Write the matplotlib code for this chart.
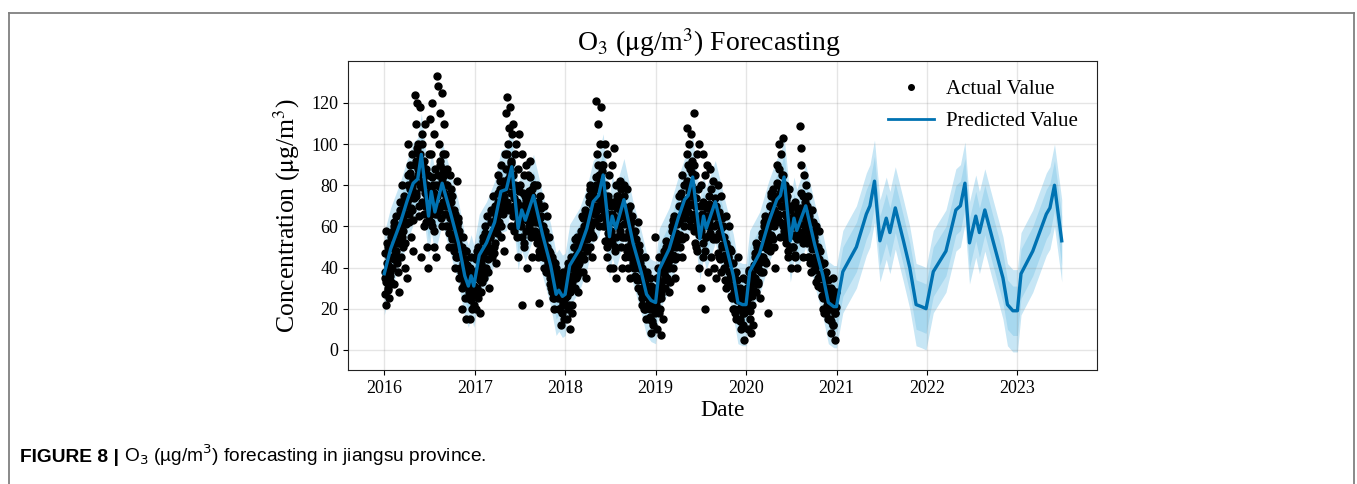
import numpy as np
import matplotlib
matplotlib.use("Agg")
import matplotlib.pyplot as plt
from matplotlib.lines import Line2D

plt.rcParams['font.family'] = ['Liberation Serif', 'DejaVu Serif']
plt.rcParams['mathtext.fontset'] = 'stix'

# observed daily O3 (read per month, Jan..Dec) - scattered / outer points
obs_2016 = [
    [27, 35, 58, 22, 42, 30, 50, 25, 38, 45, 33, 55],
    [40, 55, 60, 32, 48, 65, 45, 52, 38, 58, 28],
    [60, 72, 45, 80, 55, 66, 50, 75, 62, 40, 70, 35],
    [70, 85, 100, 62, 78, 90, 55, 95, 68, 82, 48, 74],
    [124, 90, 110, 75, 120, 85, 100, 65, 95, 118, 80, 45, 105],
    [100, 80, 60, 92, 110, 70, 88, 50, 75, 40, 95, 65],
    [112, 70, 95, 60, 120, 80, 50, 105, 75, 88, 45, 66],
    [133, 128, 100, 80, 115, 90, 70, 125, 60, 95, 85, 110],
    [95, 80, 70, 88, 60, 75, 50, 85, 65, 72, 55],
    [75, 60, 50, 68, 40, 55, 82, 45, 62, 35, 58],
    [50, 38, 45, 30, 20, 55, 35, 42, 25, 48, 15, 32],
    [35, 25, 40, 28, 15, 32, 45, 20, 30, 38, 22, 27],
]
obs_2017 = [
    [30, 45, 20, 38, 25, 50, 35, 18, 42, 28, 33],
    [45, 55, 35, 60, 40, 50, 65, 38, 48, 30],
    [55, 68, 45, 62, 75, 50, 58, 70, 42, 65],
    [72, 85, 60, 78, 90, 55, 68, 82, 48, 75],
    [95, 115, 80, 123, 100, 70, 108, 88, 118, 60, 92, 105],
    [110, 85, 70, 95, 60, 100, 78, 45, 88, 105, 65],
    [80, 60, 95, 22, 70, 85, 50, 75, 65, 90, 40],
    [85, 70, 60, 92, 55, 78, 45, 68, 80, 62],
    [70, 55, 80, 45, 62, 23, 75, 50, 65, 58],
    [60, 45, 70, 50, 38, 65, 55, 42, 48, 35],
    [40, 30, 45, 25, 35, 20, 42, 28, 38, 32],
    [30, 20, 35, 25, 12, 28, 38, 22, 15, 32],
]
obs_2018 = [
    [25, 35, 15, 40, 20, 30, 10, 28, 45, 22, 18],
    [40, 50, 30, 45, 35, 55, 28, 42, 38],
    [55, 45, 65, 38, 60, 50, 68, 35, 58, 48],
    [65, 75, 50, 80, 60, 45, 70, 55, 78, 62],
    [80, 121, 95, 70, 110, 85, 60, 100, 75, 118, 90, 65],
    [90, 70, 100, 60, 80, 45, 95, 75, 55, 85, 40],
    [70, 55, 90, 40, 65, 98, 50, 80, 35, 75, 60],
    [75, 60, 82, 50, 70, 40, 65, 55, 80, 45],
    [65, 50, 78, 40, 58, 70, 35, 62, 45, 55],
    [50, 40, 58, 35, 45, 62, 30, 48, 42],
    [35, 25, 40, 30, 20, 45, 28, 15, 38, 22],
    [25, 15, 35, 20, 8, 30, 22, 12, 28, 55, 18],
]
obs_2019 = [
    [22, 35, 10, 28, 45, 18, 30, 7, 25, 40, 15],
    [38, 45, 30, 50, 35, 42, 28, 48, 33],
    [50, 60, 40, 55, 65, 35, 52, 45, 62],
    [62, 75, 50, 70, 85, 45, 65, 80, 55, 72],
    [80, 108, 95, 70, 100, 60, 88, 105, 75, 92, 65],
    [90, 115, 70, 85, 50, 95, 60, 78, 40, 100, 65, 30],
    [80, 60, 95, 45, 70, 20, 85, 55, 65, 90, 38],
    [75, 60, 88, 45, 70, 55, 82, 40, 65, 35],
    [70, 55, 80, 45, 65, 38, 75, 50, 60],
    [55, 40, 65, 30, 50, 45, 60, 35, 48],
    [35, 25, 42, 20, 30, 38, 15, 28, 45],
    [25, 15, 30, 10, 22, 35, 18, 5, 28, 20],
]
obs_2020 = [
    [20, 30, 10, 25, 38, 15, 28, 8, 22, 35, 12],
    [35, 45, 28, 40, 50, 32, 42, 25, 38],
    [45, 55, 38, 60, 50, 65, 42, 58, 18, 52],
    [60, 70, 48, 75, 55, 65, 78, 50, 68, 40, 62],
    [75, 90, 65, 100, 80, 55, 95, 70, 85, 103, 60],
    [70, 80, 55, 65, 75, 45, 60, 78, 50, 68, 40],
    [60, 70, 50, 65, 45, 72, 55, 40, 62, 68],
    [65, 109, 98, 90, 55, 75, 45, 85, 60, 70, 80],
    [70, 55, 75, 45, 62, 38, 68, 50, 58],
    [55, 40, 60, 45, 35, 50, 58, 42, 30],
    [35, 25, 42, 18, 30, 38, 22, 15, 28],
    [25, 15, 30, 8, 20, 35, 12, 22, 5, 18, 28],
]
# observed daily O3 - dense core of the cloud (Jan..Dec)
core_2016 = [
    [38, 47, 33, 52, 41, 29, 45, 36, 50, 40],
    [50, 58, 44, 62, 53, 48, 57, 42, 60, 52],
    [60, 68, 55, 72, 63, 58, 70, 52, 66, 61],
    [72, 80, 66, 86, 74, 69, 79, 63, 83, 76],
    [82, 92, 76, 98, 88, 70, 86, 95, 79, 90],
    [72, 82, 66, 88, 76, 62, 80, 70, 85, 68],
    [68, 78, 62, 84, 73, 58, 76, 66, 80, 70],
    [75, 85, 68, 92, 79, 64, 83, 72, 88, 76],
    [66, 75, 60, 80, 70, 57, 73, 64, 78, 68],
    [54, 62, 48, 66, 57, 45, 60, 52, 64, 56],
    [40, 46, 35, 50, 42, 32, 44, 38, 48, 41],
    [30, 36, 26, 40, 32, 24, 34, 28, 38, 31],
]
core_2017 = [
    [36, 44, 30, 48, 39, 28, 42, 34, 46, 38],
    [46, 53, 40, 57, 49, 38, 52, 44, 55, 48],
    [55, 62, 49, 67, 58, 47, 60, 52, 64, 57],
    [68, 76, 62, 82, 71, 60, 74, 66, 79, 70],
    [78, 88, 72, 95, 83, 68, 85, 76, 91, 80],
    [65, 74, 58, 80, 68, 55, 72, 62, 77, 66],
    [62, 70, 55, 76, 65, 52, 68, 58, 73, 63],
    [68, 77, 62, 84, 72, 58, 75, 65, 80, 70],
    [58, 66, 52, 72, 62, 48, 64, 55, 69, 60],
    [45, 52, 40, 58, 48, 38, 50, 43, 55, 47],
    [32, 38, 28, 43, 35, 25, 37, 30, 40, 34],
    [25, 30, 20, 34, 27, 18, 29, 23, 32, 26],
]
core_2018 = [
    [32, 38, 26, 42, 34, 22, 36, 29, 40, 33],
    [43, 50, 38, 54, 46, 36, 48, 41, 52, 45],
    [52, 58, 46, 64, 55, 44, 57, 50, 61, 54],
    [64, 72, 58, 78, 67, 56, 70, 62, 75, 66],
    [74, 84, 68, 90, 78, 64, 81, 72, 87, 76],
    [60, 68, 53, 75, 63, 50, 66, 57, 72, 62],
    [58, 66, 52, 72, 62, 48, 64, 55, 69, 60],
    [64, 72, 58, 78, 67, 55, 70, 61, 75, 66],
    [55, 62, 48, 68, 58, 45, 60, 52, 65, 56],
    [42, 48, 36, 54, 45, 34, 47, 40, 51, 44],
    [28, 34, 22, 38, 30, 20, 32, 26, 36, 29],
    [22, 27, 16, 31, 24, 14, 26, 20, 29, 23],
]
core_2019 = [
    [30, 35, 24, 40, 31, 20, 33, 27, 38, 30],
    [42, 48, 36, 53, 45, 34, 47, 40, 51, 44],
    [52, 58, 46, 63, 55, 44, 57, 50, 61, 54],
    [62, 70, 56, 76, 66, 54, 68, 60, 73, 64],
    [73, 82, 67, 90, 77, 63, 80, 71, 86, 75],
    [58, 66, 52, 74, 62, 48, 64, 56, 70, 60],
    [58, 66, 52, 72, 62, 48, 64, 55, 69, 60],
    [63, 71, 57, 78, 67, 54, 69, 60, 74, 65],
    [54, 61, 47, 67, 57, 44, 59, 51, 64, 55],
    [40, 46, 34, 52, 43, 32, 45, 38, 49, 42],
    [26, 31, 20, 36, 28, 18, 30, 24, 34, 27],
    [20, 25, 14, 29, 22, 12, 24, 18, 27, 21],
]
core_2020 = [
    [29, 34, 22, 39, 30, 19, 32, 26, 37, 29],
    [41, 47, 35, 52, 44, 33, 46, 39, 50, 43],
    [51, 57, 45, 62, 54, 43, 56, 49, 60, 53],
    [62, 70, 56, 76, 66, 54, 68, 60, 73, 64],
    [72, 81, 66, 88, 76, 62, 79, 70, 85, 74],
    [58, 66, 52, 73, 62, 48, 64, 56, 70, 60],
    [56, 64, 50, 70, 60, 46, 62, 54, 67, 58],
    [61, 69, 55, 76, 65, 52, 67, 58, 72, 63],
    [52, 59, 45, 65, 55, 42, 57, 49, 62, 53],
    [39, 45, 33, 50, 42, 31, 44, 37, 48, 41],
    [26, 31, 20, 36, 28, 18, 30, 24, 34, 27],
    [20, 25, 14, 29, 22, 12, 24, 18, 27, 21],
]
obs_years = [2016, 2017, 2018, 2019, 2020]

# fitted / forecast yhat (decimal year, value)
pred_t = [2016.00, 2016.07, 2016.18, 2016.25, 2016.32, 2016.37, 2016.41, 2016.49, 2016.52, 2016.56,
          2016.64, 2016.73, 2016.82, 2016.89, 2016.93, 2016.96, 2016.99,
          2017.05, 2017.13, 2017.22, 2017.29, 2017.35, 2017.41, 2017.48, 2017.52, 2017.56,
          2017.65, 2017.75, 2017.84, 2017.90, 2017.93, 2017.97,
          2018.00, 2018.05, 2018.16, 2018.24, 2018.31, 2018.37, 2018.42, 2018.49, 2018.52, 2018.56,
          2018.65, 2018.75, 2018.84, 2018.90, 2018.95,
          2019.00, 2019.04, 2019.15, 2019.25, 2019.32, 2019.36, 2019.41, 2019.49, 2019.53, 2019.56,
          2019.66, 2019.77, 2019.86, 2019.91, 2019.96,
          2020.00, 2020.04, 2020.15, 2020.25, 2020.34, 2020.38, 2020.42, 2020.49, 2020.53, 2020.56,
          2020.66, 2020.76, 2020.85, 2020.91, 2020.97,
          2021.00, 2021.07, 2021.22, 2021.33, 2021.37, 2021.42, 2021.48, 2021.55, 2021.59,
          2021.65, 2021.74, 2021.81, 2021.88, 2021.94, 2021.99,
          2022.07, 2022.21, 2022.32, 2022.37, 2022.42, 2022.47, 2022.54, 2022.58,
          2022.64, 2022.73, 2022.84, 2022.89, 2022.95, 2023.00,
          2023.04, 2023.17, 2023.32, 2023.36, 2023.41, 2023.49]
pred_y = [37, 49, 62, 72, 81, 83, 95, 65, 77, 67,
          81, 67, 52, 36, 31, 36, 31,
          46, 52, 62, 77, 78, 89, 59, 68, 63,
          75, 56, 41, 27, 29, 26,
          27, 41, 49, 59, 72, 75, 85, 55, 65, 59,
          73, 52, 38, 27, 24,
          23, 39, 49, 64, 73, 75, 84, 54, 65, 59,
          72, 52, 36, 23, 22,
          22, 38, 47, 62, 73, 75, 84, 53, 64, 58,
          70, 51, 36, 23, 21,
          21, 38, 50, 66, 70, 82, 53, 64, 57,
          69, 53, 40, 22, 21, 20,
          38, 48, 68, 70, 81, 52, 65, 57,
          68, 53, 35, 22, 19, 19,
          37, 48, 66, 69, 80, 53]
band_outer = 20
band_inner = 12

fig = plt.figure(figsize=(13.57, 4.84), dpi=100)
ax = fig.add_axes([0.2565, 0.2355, 0.5519, 0.6385])

xs, ys = [], []
for yr, a, b in zip(obs_years, [obs_2016, obs_2017, obs_2018, obs_2019, obs_2020],
                    [core_2016, core_2017, core_2018, core_2019, core_2020]):
    for months in (a, b):
        for m, vals in enumerate(months):
            n = len(vals)
            for i, v in enumerate(vals):
                xs.append(yr + (m + (i + 0.5) / n) / 12)
                ys.append(v)
ax.plot(xs, ys, 'k.', markersize=10, zorder=2)

t = np.array(pred_t)
y = np.array(pred_y)
ax.plot(t, y, ls='-', c='#0072B2', lw=2.4, zorder=3)
ax.fill_between(t, y - band_outer, y + band_outer, color='#5fb8e3', alpha=0.35, lw=0, zorder=1)
ax.fill_between(t, y - band_inner, y + band_inner, color='#5fb8e3', alpha=0.3, lw=0, zorder=1)

ax.set_xlim(2015.6, 2023.88)
ax.set_ylim(-9.8, 140.4)
ax.set_xticks(range(2016, 2024))
ax.set_xticklabels([str(v) for v in range(2016, 2024)])
ax.set_yticks(range(0, 121, 20))
ax.grid(True, which='major', c='gray', ls='-', lw=1, alpha=0.2)
ax.tick_params(labelsize=13)
for s in ax.spines.values():
    s.set_color('#222222')

ttl = ax.set_title('O$_3$ ($\\mathrm{\\mu}$g/m$^3$) Forecasting', fontsize=20, pad=7)
ttl.set_x(0.482)
ax.set_xlabel('Date', fontsize=17, labelpad=2)
ax.set_ylabel('Concentration ($\\mathrm{\\mu}$g/m$^3$)', fontsize=18.5, labelpad=6)

handles = [Line2D([], [], ls='none', marker='.', color='k', markersize=8),
           Line2D([], [], color='#0072B2', lw=2)]
ax.legend(handles, ['Actual Value', 'Predicted Value'], loc='upper right', frameon=False,
          fontsize=15, handlelength=2.2, handletextpad=0.6, borderaxespad=0.5, labelspacing=0.6)

# figure frame and caption
fc = '#808080'
fig.add_artist(Line2D([0.0066, 0.0066], [0.0, 0.9738], color=fc, lw=1.3))
fig.add_artist(Line2D([0.0066, 0.9978], [0.9738, 0.9738], color=fc, lw=1.3))
fig.add_artist(Line2D([0.9978, 0.9978], [0.0, 0.9738], color=fc, lw=1.3))

cap1 = fig.text(0.0148, 0.045, 'FIGURE 8 |', family='Liberation Sans', weight='bold',
                fontsize=13.8, va='baseline')
fig.canvas.draw()
bb = cap1.get_window_extent()
x2 = (bb.x1 + 5) / fig.bbox.width
fig.text(x2, 0.045, 'O$_3$ (µg/m$^3$) forecasting in jiangsu province.', family='Liberation Sans',
         fontsize=13.8, va='baseline', math_fontfamily='dejavusans')

fig.savefig('out.png', dpi=100)
